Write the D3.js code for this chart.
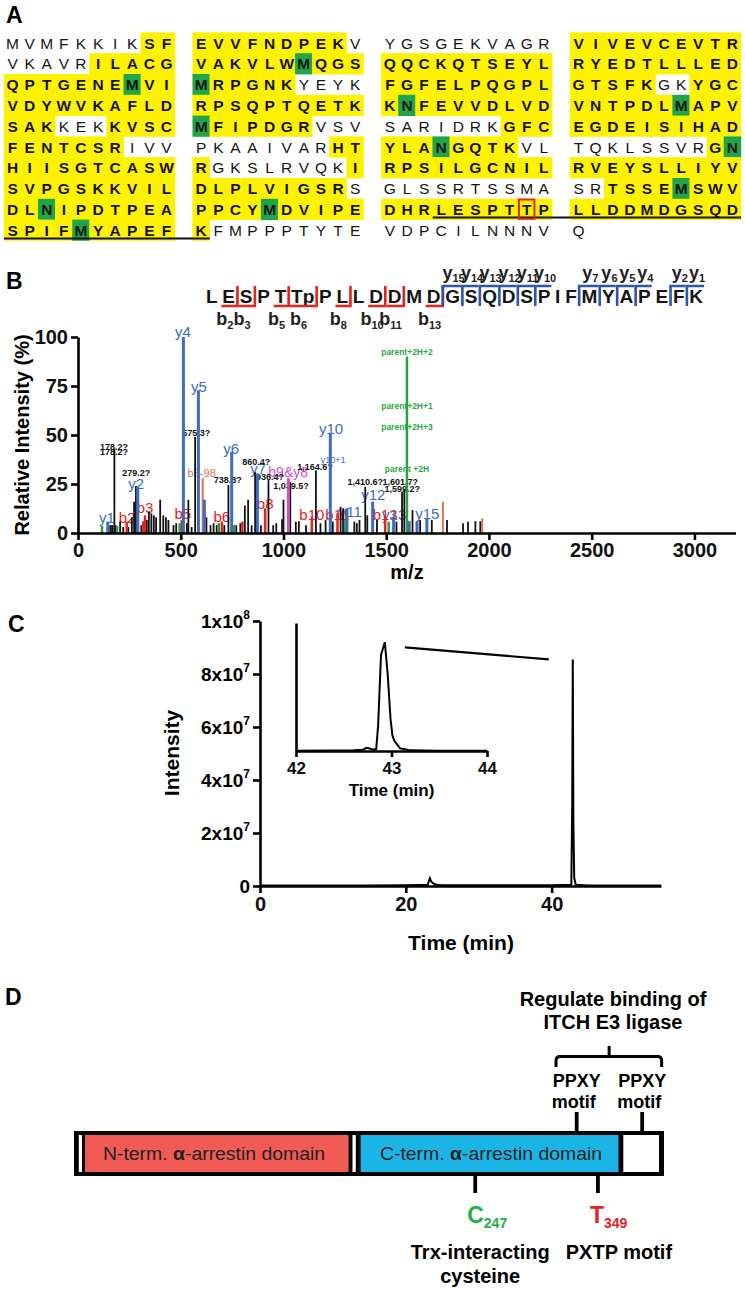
<!DOCTYPE html>
<html><head><meta charset="utf-8">
<script src="https://cdn.jsdelivr.net/npm/d3@7/dist/d3.min.js"></script>
<style>
body{margin:0;background:#fff}
svg text{font-family:"Liberation Sans",Arial,Helvetica,sans-serif}
</style></head><body>
<svg id="fig" width="745" height="1289"></svg>
<script>
// ---------------- DATA ----------------
// Panel A: sequence blocks (10 residues per row) and highlight masks (. none, y yellow, g green)
const block1Seq = ["MVMFKKIKSF","VKAVRILACG","QPTGENEMVI","VDYWVKAFLD","SAKKEKKVSC","FENTCSRIVV","HIISGTCASW","SVPGSKKVIL","DLNIPDTPEA","SPIFMYAPEF"];
const block1Mask = ["........yy",".....yyyyy","yyyyyyygyy","yyyyyyyyyy","yyy...yyyy","yyyyyyy...","yyyyyyyyyy","yyyyyyyyyy","yygyyyyyyy","yyyygyyyyy"];
const block2Seq = ["EVVFNDPEKV","VAKVLWMQGS","MRPGNKYEYK","RPSQPTQETK","MFIPDGRVSV","PKAAIVARHT","RGKSLRVQKI","DLPLVIGSRS","PPCYMDVIPE","KFMPPPTYTE"];
const block2Mask = ["yyyyyyyyy.","yyyyyygyyy","gyyyyy....","yyyyyyyyyy","gyyyyyy...","........yy","y........y","yyyyyyyyy.","yyyygyyyyy","y........."];
const block3Seq = ["YGSGEKVAGR","QQCKQTSEYL","FGFELPQGPL","KNFEVVDLVD","SARIDRKGFC","YLANGQTKVL","RPSILGCNIL","GLSSRTSSMA","DHRLESPTTP","VDPCILNNNV"];
const block3Mask = ["..........","yyyyyyyyyy","yyyyyyyyyy","ygyyyyyyyy",".......yyy","yyygyyyy..","yyyyyyyyyy","..........","yyyyyyyyyy",".........."];
const block4Seq = ["VIVEVCEVTR","RYEDTLLLED","GTSFKGKYGC","VNTPDLMAPV","EGDEISIHAD","TQKLSSVRGN","RVEYSLLIYV","SRTSSEMSWV","LLDDMDGSQD","Q"];
const block4Mask = ["yyyyyyyyyy","yyyyyyyyyy","yyyyy..yyy","yyyyyygyyy","yyyyyyyyyy","........yg","yyyyyyyyyy","..yyyygyyy","yyyyyyyyyy","."];
// peptide underline spans: [row, fromBlock, fromCol, toBlock, toCol]
const underlineSpans = [[8,2,3,3,9],[9,0,0,1,0]];
const phosphoSite = [8,2,8]; // row, block, col

// Panel B: peptide and fragment ions
const peptide = ["L","E","S","P","T","Tp","P","L","L","D","D","M","D","G","S","Q","D","S","P","I","F","M","Y","A","P","E","F","K"];
const bIonIndex = [1,2,4,5,7,9,10,12];
const bIonNum   = [2,3,5,6,8,10,11,13];
const yIonIndex = [13,14,15,16,17,18,21,22,23,24,26,27];
const yIonNum   = [15,14,13,12,11,10,7,6,5,4,2,1];

// Panel B: MS/MS spectrum peaks (m/z, relative intensity %, type)
const peakMz  = [117,145,150,160,168,177,183,190,205,220,237,245,262,273,282,291,308,318,326,335,345,357,369,380,400,415,428,440,465,478,495,505,513,530,537,553,570,586,607,615,625,645,660,675,685,700,712,732,748,760,770,790,800,812,828,845,862,873,890,911,927,950,965,993,1000,1024,1033,1060,1075,1110,1138,1158,1180,1205,1228,1240,1263,1278,1290,1300,1309,1345,1357,1370,1398,1408,1434,1455,1495,1512,1536,1550,1577,1588,1601,1612,1628,1650,1665,1698,1722,1776,1796,1874,1898,1934,1958,1967];
const peakInt = [3.6,5.8,4,4,4,43,4,3.5,5.8,3,5.8,3,8,16,24,23.6,4,6,9,6.6,11,10,9,8,17,9,8,6.6,4,5,5,6.6,100,5,17,3,49,72.8,28,17,8,4,5,4,5,5.8,4,24.5,41.5,4,4,5,5.8,14,17,4,31,30.4,4,12.6,27,4,5,7,17,28,26,5.8,6,4,8.3,32,5,6.6,50.8,5.8,10,13.4,12.6,6.6,12.6,5.8,5,6.6,23.6,9,16,6.6,8.3,5.8,8.3,5.8,21,22,90,6,11.7,5.8,6.6,7.5,6.6,16,6.6,5,5.8,6,6,7.5];
const peakType = ["g","b","k","k","k","k","k","g","k","k","r","k","k","k","k","b","k","r","r","k","k","k","k","k","k","k","k","k","k","k","g","r","b","k","k","k","k","b","o","b","k","k","k","k","g","r","k","k","b","g","k","k","r","k","k","k","k","b","k","r","k","k","k","k","k","m","k","k","k","k","r","k","k","k","b","k","r","k","k","g","b","k","k","k","k","k","b","k","r","g","b","k","k","k","g","b","k","b","k","b","k","o","k","k","k","k","k","o"];

// Spectrum annotations (text, m/z anchor, intensity anchor, kind)
const annText = ["y1","b2","y2","b3","b5","y4","y5","b6-98","b6","y6","y7","b8","b9&y8","b10","y10","y10+1","b11","y11","y12","b13","y13","y15",
                 "178.2?","178.2?","279.2?","575.3?","738.3?","860.4?","936.4?","1,039.5?","1,164.6?","1,410.6?","1,601.7?","1,599.2?",
                 "parent+2H+2","parent+2H+1","parent+2H+3","parent +2H"];
const annMz = [141,239,283,326,510,511,588,602,700,745,877,911,1023,1138,1232,1242,1262,1325,1437,1495,1539,1700,
               175,175,283,575,729,867,935,1037,1154,1398,1568,1578,
               1601,1601,1601,1601];
const annInt = [8,8,25.5,12.8,10,102.7,74.7,30.6,8.3,43.2,33,15,31.3,9.2,53.4,37,9.2,10.9,19.4,9.2,9.2,10.2,
                44,41.5,30.5,50.9,27,36,28.7,24,33.8,25.9,26,22.4,
                92.3,65,54,32.7];
const annKind = ["y","b","y","b","b","y","y","o","b","y","y","b","m","b","y","ys","b","y","y","b","y","y",
                 "n","n","n","n","n","n","n","n","n","n","n","n",
                 "p","p","p","p"];

const specXTicks = [0,500,1000,1500,2000,2500,3000];
const specYTicks = [0,25,50,75,100];

// Panel C: extracted ion chromatogram
const chromTime = [0,5,10,15,20,23.0,23.3,23.5,23.8,24.2,25,30,35,40,42.7,42.82,42.9,42.98,43.1,43.3,45,50,55];
const chromInt  = [2e5,2e5,2e5,2e5,3e5,5e5,2.9e6,1.6e6,9e5,5e5,3e5,3e5,3e5,3e5,5e5,3e7,8.55e7,2.5e7,3e6,5e5,2e5,2e5,2e5];
const insetTime = [42.0,42.3,42.6,42.7,42.74,42.77,42.8,42.84,42.86,42.89,42.93,42.96,42.99,43.01,43.03,43.06,43.09,43.13,43.2,43.5,44.0];
const insetInt  = [2e5,3e5,5e5,1e6,2.5e6,2e6,1e6,1.5e6,2e7,7.5e7,8.5e7,6e7,2.5e7,1.2e7,8e6,5e6,2e6,1.5e6,5e5,2e5,1e5];
const chromXTicks = [0,20,40];
const chromYTicks = [0,2e7,4e7,6e7,8e7,1e8];
const insetXTicks = [42,43,44];

// Panel D: domain architecture (schematic)
const domainLabels = ["N-term. ","C-term. "];
const motifLabelsTop = ["PPXY","PPXY"];
const siteLetters = ["C","T"];
const siteNumbers = ["247","349"];
const siteNotes = [["Trx-interacting","cysteine"],["PXTP motif"]];
const bindingNote = ["Regulate binding of","ITCH E3 ligase"];

// ---------------- DRAW ----------------
const svg = d3.select("#fig");
const BOLD = "bold";
const C_BLUE="#3d6cc0", C_RED="#e8201e", C_ORANGE="#dd7450", C_GREEN="#27a243", C_MAG="#cf4fc3", C_BLACK="#111";
const typeColor = {b:C_BLUE,r:C_RED,o:C_ORANGE,g:C_GREEN,m:C_MAG,k:C_BLACK};
const typeWidth = {b:3,r:2.5,o:2,g:2.5,m:3,k:1.8};

// panel letters
const panelLetters = [["A",6,23],["B",6,289],["C",8,632],["D",5,1005]];
svg.selectAll("text.panel").data(panelLetters).join("text").attr("class","panel")
  .attr("x",d=>d[1]).attr("y",d=>d[2]).attr("font-size",23).attr("font-weight",BOLD).text(d=>d[0]);

// ===== Panel A =====
const blocks = [[block1Seq,block1Mask],[block2Seq,block2Mask],[block3Seq,block3Mask],[block4Seq,block4Mask]];
const blockX = d3.scalePoint().domain([0,1,2,3]).range([4,570]);
const colX = d3.scaleLinear().domain([0,10]).range([0,171]);
const rowY = d3.scaleLinear().domain([0,10]).range([32.6,240.6]);
const cellW = colX(1)-colX(0), cellH = rowY(1)-rowY(0);
const gA = svg.append("g");
const cells = [];
blocks.forEach(([seqs,masks],b)=>{
  seqs.forEach((s,r)=>{
    for(let c=0;c<s.length;c++) cells.push({b,r,c,ch:s[c],m:masks[r][c]});
  });
});
gA.selectAll("rect.cell").data(cells.filter(d=>d.m!==".")).join("rect")
  .attr("x",d=>blockX(d.b)+colX(d.c)-0.2).attr("y",d=>rowY(d.r)-0.2)
  .attr("width",cellW+0.4).attr("height",cellH+0.4)
  .attr("fill",d=>d.m==="g"?"#1fa64b":"#fff200");
gA.selectAll("text.res").data(cells).join("text")
  .attr("x",d=>blockX(d.b)+colX(d.c)+cellW/2).attr("y",d=>rowY(d.r)+cellH/2+5.6)
  .attr("text-anchor","middle").attr("font-size",15.5)
  .attr("font-weight",d=>d.m==="."?"normal":"bold").attr("fill","#141414").text(d=>d.ch);
underlineSpans.forEach(([r,b1,c1,b2,c2])=>{
  gA.append("line").attr("x1",blockX(b1)+colX(c1)).attr("x2",blockX(b2)+colX(c2+1))
    .attr("y1",rowY(r)+cellH-2.2).attr("y2",rowY(r)+cellH-2.2).attr("stroke","#111").attr("stroke-width",2);
});
gA.append("rect").attr("x",blockX(phosphoSite[1])+colX(phosphoSite[2])+0.8).attr("y",rowY(phosphoSite[0])+0.5)
  .attr("width",cellW-1.6).attr("height",cellH-1.5).attr("fill","none").attr("stroke","#e8201e").attr("stroke-width",2);

// ===== Panel B peptide map =====
const gP = svg.append("g");
const pepFont = 19, pepBase = 303;
const tmp = gP.append("text").attr("font-size",pepFont).attr("font-weight",BOLD);
const pw = peptide.map(r=>{tmp.text(r);return tmp.node().getComputedTextLength();});
tmp.remove();
const pStart=206, pEnd=703;
const gap=(pEnd-pStart-d3.sum(pw))/(peptide.length-1);
const pl=[]; let acc=pStart; pw.forEach(w=>{pl.push(acc);acc+=w+gap;});
gP.selectAll("text.pep").data(peptide).join("text").attr("x",(d,i)=>pl[i]).attr("y",pepBase)
  .attr("font-size",pepFont).attr("font-weight",BOLD).attr("fill","#151515").text(d=>d);
const bTop = pepBase-17, bBot = pepBase+3;
bIonIndex.forEach((i,k)=>{
  const vx = pl[i]+pw[i]+gap/2;
  gP.append("path").attr("d",`M${vx},${bTop}V${bBot}H${pl[i]-1}`).attr("fill","none").attr("stroke",C_RED).attr("stroke-width",2.6);
  const t = gP.append("text").attr("x",pl[i]+pw[i]/2-4).attr("y",pepBase+22).attr("text-anchor","middle")
    .attr("font-size",18).attr("font-weight",BOLD).attr("fill","#222");
  t.append("tspan").text("b");
  t.append("tspan").attr("font-size",11).attr("dy",4).text(bIonNum[k]);
});
yIonIndex.forEach((i,k)=>{
  const vx = pl[i]-gap/2;
  gP.append("path").attr("d",`M${vx},${bBot}V${bTop}H${pl[i]+pw[i]+1}`).attr("fill","none").attr("stroke","#2f55aa").attr("stroke-width",2.6);
  const t = gP.append("text").attr("x",pl[i]+pw[i]/2+1).attr("y",pepBase-24).attr("text-anchor","middle")
    .attr("font-size",18).attr("font-weight",BOLD).attr("fill","#222");
  t.append("tspan").text("y");
  t.append("tspan").attr("font-size",11).attr("dy",3).text(yIonNum[k]);
});

// ===== Panel B spectrum =====
const xB = d3.scaleLinear().domain([0,3200]).range([78,735.5]);
const yB = d3.scaleLinear().domain([0,100]).range([533,337]);
const gB = svg.append("g");
const annStyle = {
  y:{c:C_BLUE,s:15,w:"normal"}, b:{c:C_RED,s:15,w:"normal"}, m:{c:C_MAG,s:14,w:"normal"},
  o:{c:C_ORANGE,s:11,w:"normal"}, ys:{c:C_BLUE,s:9,w:"normal"}, n:{c:C_BLACK,s:9,w:"bold"}, p:{c:"#2aa84a",s:8.5,w:"bold"}
};
gB.selectAll("text.ann").data(annText).join("text")
  .attr("x",(d,i)=>xB(annMz[i])).attr("y",(d,i)=>yB(annInt[i]))
  .attr("dominant-baseline","central").attr("text-anchor","middle")
  .attr("font-size",(d,i)=>annStyle[annKind[i]].s).attr("font-weight",(d,i)=>annStyle[annKind[i]].w)
  .attr("fill",(d,i)=>annStyle[annKind[i]].c).text(d=>d);
const peaks = peakMz.map((m,i)=>({m,v:peakInt[i],t:peakType[i]}));
const order = {k:0,o:1,r:2,g:3,m:4,b:5};
gB.selectAll("line.pk").data(peaks.slice().sort((a,b)=>order[a.t]-order[b.t])).join("line")
  .attr("x1",d=>xB(d.m)).attr("x2",d=>xB(d.m)).attr("y1",yB(0)).attr("y2",d=>yB(d.v))
  .attr("stroke",d=>typeColor[d.t]).attr("stroke-width",d=>typeWidth[d.t]);
function styleAxis(g,fs){
  g.selectAll("path,line").attr("stroke","#000").attr("stroke-width",2.6);
  g.selectAll("text").attr("font-size",fs).attr("font-weight",BOLD).attr("fill","#111")
    .attr("font-family",'"Liberation Sans",Arial,sans-serif');
}
const axYB = gB.append("g").attr("transform",`translate(${xB(0)},0)`)
  .call(d3.axisLeft(yB).tickValues(specYTicks).tickSize(7).tickSizeOuter(0).tickPadding(3));
styleAxis(axYB,20);
const axXB = gB.append("g").attr("transform",`translate(0,${yB(0)})`)
  .call(d3.axisBottom(xB).tickValues(specXTicks).tickFormat(d3.format("d")).tickSize(7).tickSizeOuter(0).tickPadding(3));
styleAxis(axXB,20);
gB.append("text").attr("x",407).attr("y",579).attr("text-anchor","middle").attr("font-size",20).attr("font-weight",BOLD).text("m/z");
gB.append("text").attr("transform","translate(29,435) rotate(-90)").attr("text-anchor","middle")
  .attr("font-size",20).attr("font-weight",BOLD).text("Relative Intensity (%)");

// ===== Panel C =====
const xC = d3.scaleLinear().domain([0,55]).range([260,661]);
const yC = d3.scaleLinear().domain([0,1e8]).range([886,621]);
const gC = svg.append("g");
const lineC = d3.line().x((d,i)=>xC(chromTime[i])).y((d,i)=>yC(chromInt[i]));
gC.append("path").datum(chromInt).attr("d",lineC).attr("fill","none").attr("stroke","#000").attr("stroke-width",2);
const axYC = gC.append("g").attr("transform",`translate(${xC(0)},0)`)
  .call(d3.axisLeft(yC).tickValues(chromYTicks).tickSize(7).tickSizeOuter(0).tickFormat(""));
styleAxis(axYC,19);
chromYTicks.forEach(v=>{
  const t = gC.append("text").attr("x",xC(0)-10).attr("y",yC(v)+7).attr("text-anchor","end")
    .attr("font-size",19).attr("font-weight",BOLD);
  if(v===0){ t.text("0"); return; }
  const e = Math.floor(Math.log10(v)), m = Math.round(v/Math.pow(10,e));
  t.append("tspan").text(m+"x10");
  t.append("tspan").attr("font-size",12).attr("dy",-9).text(e);
});
const axXC = gC.append("g").attr("transform",`translate(0,${yC(0)})`)
  .call(d3.axisBottom(xC).tickValues(chromXTicks).tickSize(7).tickSizeOuter(0).tickPadding(4));
styleAxis(axXC,20);
gC.append("text").attr("x",461).attr("y",950).attr("text-anchor","middle").attr("font-size",21).attr("font-weight",BOLD).text("Time (min)");
gC.append("text").attr("transform","translate(179,753) rotate(-90)").attr("text-anchor","middle")
  .attr("font-size",21).attr("font-weight",BOLD).text("Intensity");
// inset
const xI = d3.scaleLinear().domain([42,44]).range([296,487]);
const yI = d3.scaleLinear().domain([0,1e8]).range([751,623]);
const lineI = d3.line().x((d,i)=>xI(insetTime[i])).y((d,i)=>yI(insetInt[i]));
gC.append("path").datum(insetInt).attr("d",lineI).attr("fill","none").attr("stroke","#000").attr("stroke-width",2);
const axYI = gC.append("g").attr("transform",`translate(${xI(42)},0)`)
  .call(d3.axisLeft(yI).tickValues([]).tickSizeOuter(0));
styleAxis(axYI,16);
const axXI = gC.append("g").attr("transform",`translate(0,${yI(0)})`)
  .call(d3.axisBottom(xI).tickValues(insetXTicks).tickFormat(d3.format("d")).tickSize(6).tickSizeOuter(0).tickPadding(5));
styleAxis(axXI,17);
gC.append("text").attr("x",xI(43)).attr("y",796).attr("text-anchor","middle").attr("font-size",17).attr("font-weight",BOLD).text("Time (min)");
gC.append("line").attr("x1",xI(43.14)).attr("y1",yI(0.81e8)).attr("x2",xC(39.6)).attr("y2",yC(0.855e8))
  .attr("stroke","#000").attr("stroke-width",2.2);

// ===== Panel D (schematic, fractional positions along the bar) =====
const xD = d3.scaleLinear().domain([0,1]).range([74,664]);
const gD = svg.append("g");
const barTop=1131, barBot=1176;
gD.append("rect").attr("x",xD(0)).attr("y",barTop).attr("width",xD(1)-xD(0)).attr("height",barBot-barTop).attr("fill","#000");
const segs = [[0.0081,0.0136,"#fff"],[0.0186,0.4654,"#f15a55"],[0.472,0.4776,"#fff"],[0.4858,0.9229,"#1bb5e5"],[0.931,0.9915,"#fff"]];
segs.forEach(([a,b,c])=>{
  gD.append("rect").attr("x",xD(a)).attr("y",barTop+4).attr("width",xD(b)-xD(a)).attr("height",barBot-barTop-8).attr("fill",c);
});
[[0.2373,domainLabels[0]],[0.7068,domainLabels[1]]].forEach(([f,lab])=>{
  const t = gD.append("text").attr("x",xD(f)).attr("y",barTop+29).attr("text-anchor","middle")
    .attr("font-family",'"Open Sans","Noto Sans",sans-serif').attr("font-size",18).attr("fill","#222")
    .attr("textLength",222).attr("lengthAdjust","spacingAndGlyphs");
  t.append("tspan").text(lab);
  t.append("tspan").attr("font-weight","bold").text("α");
  t.append("tspan").text("-arrestin domain");
});
// motif ticks above
const ppxyPos = [0.852,0.963];
ppxyPos.forEach((f,i)=>{
  const x = xD(f);
  gD.append("line").attr("x1",x).attr("x2",x).attr("y1",1112).attr("y2",barTop).attr("stroke","#000").attr("stroke-width",3.8);
  gD.append("text").attr("x",x).attr("y",1087).attr("text-anchor","middle").attr("font-size",18).attr("font-weight",BOLD).text(motifLabelsTop[i]);
  gD.append("text").attr("x",x-3).attr("y",1108).attr("text-anchor","middle").attr("font-size",18).attr("font-weight",BOLD).text("motif");
});
// brace
const bp = d3.path();
const bx1 = xD(0.817), bx2 = xD(0.996), bxm = xD(0.907), by = 1056.5;
bp.moveTo(bx1,1067); bp.lineTo(bx1,by+4); bp.quadraticCurveTo(bx1,by,bx1+4,by); bp.lineTo(bx2-4,by); bp.quadraticCurveTo(bx2,by,bx2,by+4); bp.lineTo(bx2,1067);
bp.moveTo(bxm,by); bp.lineTo(bxm,1046);
gD.append("path").attr("d",bp.toString()).attr("fill","none").attr("stroke","#000").attr("stroke-width",3);
bindingNote.forEach((s,k)=>{
  gD.append("text").attr("x",613).attr("y",1006+k*23).attr("text-anchor","middle").attr("font-size",20).attr("font-weight",BOLD).text(s);
});
// sites below
const sitePos = [0.68,0.888];
const siteCol = ["#22b04b","#e8201e"];
sitePos.forEach((f,i)=>{
  const x = xD(f);
  gD.append("line").attr("x1",x).attr("x2",x).attr("y1",barBot).attr("y2",1193).attr("stroke","#000").attr("stroke-width",3.8);
  const t = gD.append("text").attr("x",x-8).attr("y",1223).attr("text-anchor","start").attr("font-size",23).attr("font-weight",BOLD).attr("fill",siteCol[i]);
  t.append("tspan").text(siteLetters[i]);
  t.append("tspan").attr("font-size",14).attr("dy",5).text(siteNumbers[i]);
  siteNotes[i].forEach((s,k)=>{
    gD.append("text").attr("x",x+(i===0?5:21)).attr("y",1259+k*24).attr("text-anchor","middle").attr("font-size",20).attr("font-weight",BOLD).text(s);
  });
});
</script>
</body></html>
